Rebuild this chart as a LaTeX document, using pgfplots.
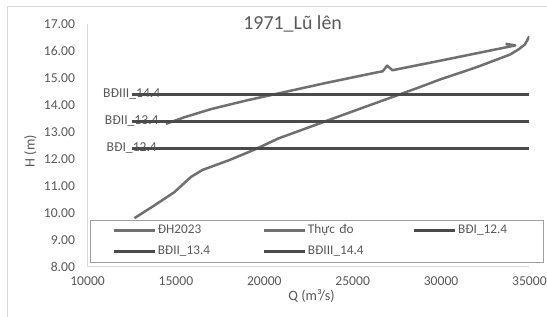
\documentclass[border=0pt]{standalone}
\usepackage{fontspec}
\setmainfont{Carlito}
\usepackage{pgfplots}
\pgfplotsset{compat=1.18}
\definecolor{txt}{HTML}{595959}
\definecolor{curve}{HTML}{707070}
\definecolor{bd}{HTML}{4B4B4B}
\definecolor{axl}{HTML}{D9D9D9}
\begin{document}
\begin{tikzpicture}
\path[use as bounding box] (0,0) rectangle (412.25pt,238.5pt);
\draw[axl, line width=0.75pt] (6pt,-2pt) -- (6pt,233.25pt) -- (414pt,233.25pt);
\begin{axis}[
  at={(66pt,37.5pt)}, anchor=south west,
  scale only axis, width=333pt, height=182.8pt,
  xmin=10000, xmax=35000, ymin=8, ymax=17,
  xtick={10000,15000,20000,25000,30000,35000},
  ytick={8,9,10,11,12,13,14,15,16,17},
  scaled x ticks=false, scaled y ticks=false,
  axis lines=left, axis line style={-, draw=axl, line width=0.75pt},
  major tick length=0pt,
  font=\fontsize{10.25pt}{12pt}\selectfont,
  tick label style={text=txt},
  /pgf/number format/assume math mode=true,
  xticklabel style={/pgf/number format/1000 sep={}, yshift=-4pt},
  yticklabel style={/pgf/number format/fixed, /pgf/number format/fixed zerofill, /pgf/number format/precision=2, xshift=-6pt},
  title={1971\_Lũ lên},
  title style={at={(axis description cs:0.342,0.970)}, anchor=west, font=\fontsize{15pt}{17pt}\selectfont, text=txt},
  ylabel={H (m)},
  ylabel style={at={(axis description cs:-0.1295,0.476)}, anchor=center, text=txt, font=\fontsize{10.75pt}{12pt}\selectfont},
  xlabel={Q (m³/s)},
  xlabel style={at={(axis description cs:0.507,-0.119)}, anchor=center, text=txt, font=\fontsize{10.75pt}{12pt}\selectfont},
  legend columns=3,
  legend cell align=left,
  legend image code/.code={\draw[#1] (0pt,0pt) -- (31pt,0pt);},
  legend style={at={(axis description cs:0.0045,0.019)}, anchor=south west,
    draw=gray!75, fill=white, inner xsep=17pt, inner ysep=2.4pt, row sep=4.75pt,
    font=\fontsize{10pt}{11pt}\selectfont, text=txt,
    nodes={inner sep=1pt, text width=46pt, text height=7pt, text depth=2pt, align=left},
    /tikz/every even column/.append style={column sep=32pt}},
]
% data labels (drawn first, lines over them)
\addplot[draw=none, forget plot] coordinates {(12500,14.4) (13000,14.4)} node[pos=0, anchor=center, text=txt] {BĐIII\_14.4};
\addplot[draw=none, forget plot] coordinates {(12500,13.4) (13000,13.4)} node[pos=0, anchor=center, text=txt] {BĐII\_13.4};
\addplot[draw=none, forget plot] coordinates {(12500,12.4) (13000,12.4)} node[pos=0, anchor=center, text=txt] {BĐI\_12.4};
% DH2023
\addplot[curve, line width=1.9pt, line join=round] coordinates {
(12650,9.80) (13700,10.24) (14900,10.76) (15500,11.12) (15850,11.33) (16500,11.59)
(18000,11.95) (19500,12.36) (20800,12.76) (23600,13.43) (26000,14.00) (28700,14.64)
(30000,14.96) (32000,15.40) (33900,15.87) (34400,16.07) (34750,16.25) (35000,16.55)};
% Thuc do
\addplot[curve, line width=1.9pt, line join=round] coordinates {
(14430,13.30) (15500,13.55) (17000,13.85) (19000,14.17) (20800,14.43) (23500,14.82)
(26440,15.22) (26700,15.25) (26950,15.46) (27250,15.29) (30000,15.65) (34200,16.21) (33650,16.27)};
\addplot[bd, line width=2.2pt] coordinates {(12500,12.4) (35000,12.4)};
\addplot[bd, line width=2.2pt] coordinates {(12500,13.4) (35000,13.4)};
\addplot[bd, line width=2.2pt] coordinates {(12500,14.4) (35000,14.4)};
\legend{ĐH2023, Thực đo, BĐI\_12.4, BĐII\_13.4, BĐIII\_14.4}
\end{axis}
\end{tikzpicture}
\end{document}
